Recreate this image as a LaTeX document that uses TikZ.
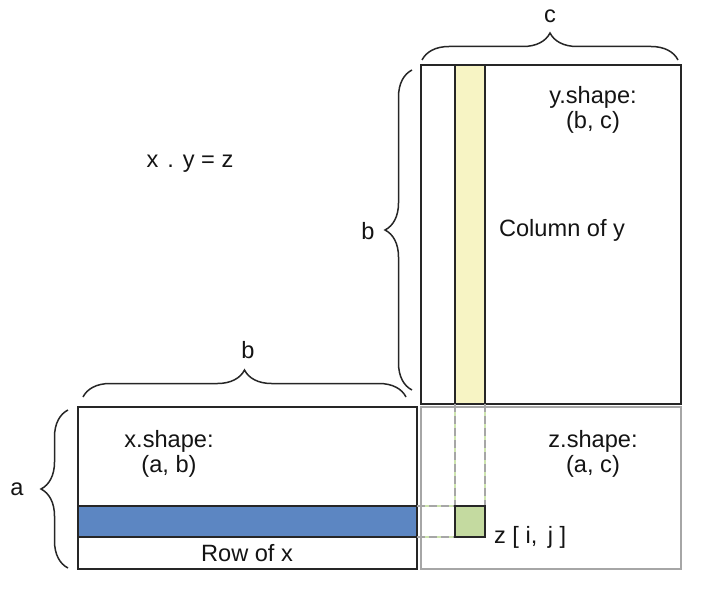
\documentclass[tikz,border=0pt]{standalone}
\usepackage{fontspec}
\setmainfont{Liberation Sans}
\usepackage{tikz}
\usetikzlibrary{positioning,decorations.pathreplacing}
\definecolor{colfill}{RGB}{247,244,196}
\definecolor{rowfill}{RGB}{92,134,194}
\definecolor{cellfill}{RGB}{196,218,160}
\definecolor{guide}{RGB}{205,228,175}

\begin{document}
\begin{tikzpicture}[
  x=0.5pt, y=-0.5pt,
  mat/.style={draw=black!85, line width=0.9pt, inner sep=0pt, outer sep=0pt},
  lbl/.style={font=\fontsize{11.8}{12.5}\selectfont, text=black!92, align=center},
  curly/.style={decorate, decoration={brace, amplitude=13.5pt}, line width=0.75pt, draw=black!85},
  guideline/.style={draw=guide, line width=0.6pt},
  dashline/.style={draw=black!35, line width=0.8pt, dash pattern=on 4pt off 2pt}
]
\useasboundingbox (0,0) rectangle (710,588);

% result z
\node[mat, draw=black!35, minimum width=130pt, minimum height=81pt] (zr) at (551,488) {};

% matrix y and its column
\node[mat, minimum width=130pt, minimum height=169.5pt] (yr) at (551,234.5) {};
\node[mat, fill=colfill, minimum width=15pt, minimum height=169.5pt] (yc) at (470,234.5) {};

% matrix x and its row
\node[mat, minimum width=169.5pt, minimum height=81pt] (xr) at (247.5,488) {};
\node[mat, fill=rowfill, minimum width=169.5pt, minimum height=15.5pt] (xrow) at (247.5,521.5) {};

% cell z[i,j]
\node[mat, fill=cellfill, minimum width=15pt, minimum height=15.5pt] (cell) at (470,521.5) {};

% guides from column and row to the cell
\foreach \s/\t in {yc.south west/cell.north west, yc.south east/cell.north east,
                   xrow.north east/cell.north west, xrow.south east/cell.south west} {
  \draw[guideline] (\s) -- (\t);
  \draw[dashline] (\s) -- (\t);
}
\draw[mat, fill=cellfill] (cell.north west) rectangle (cell.south east);

% braces
\draw[curly] ([xshift=0.5pt,yshift=2.5pt]yr.north west) -- ([xshift=-1.5pt,yshift=2.5pt]yr.north east);
\draw[curly] ([xshift=-4.5pt,yshift=7pt]yr.south west) -- ([xshift=-4.5pt,yshift=-2.5pt]yr.north west);
\draw[curly] ([xshift=2.5pt,yshift=5pt]xr.north west) -- ([xshift=-5.5pt,yshift=5pt]xr.north east);
\draw[curly] ([xshift=-5pt,yshift=0.5pt]xr.south west) -- ([xshift=-5pt,yshift=-1.5pt]xr.north west);

% labels
\node[lbl] (lc) at (550,16) {c};
\node[lbl] (lby) at (368,231) {b};
\node[lbl] (lbx) at (248,350) {b};
\node[lbl] (la) at (17,489) {a};
\node[lbl, anchor=base] (eq) at (190,168) {x\hspace{0.38em}.\hspace{0.38em}y = z};
\node[lbl] (yshape) at (593,110) {y.shape:\\(b, c)};
\node[lbl, anchor=west] (ycol) at (492,230) {Column of y};
\node[lbl] (xshape) at (169,454) {x.shape:\\(a, b)};
\node[lbl] (xrowtxt) at (247,553) {Row of x};
\node[lbl] (zshape) at (593,454) {z.shape:\\(a, c)};
\node[lbl, right=1pt of cell.south east] (zij) {z [ i,\, j ]};
\end{tikzpicture}
\end{document}
